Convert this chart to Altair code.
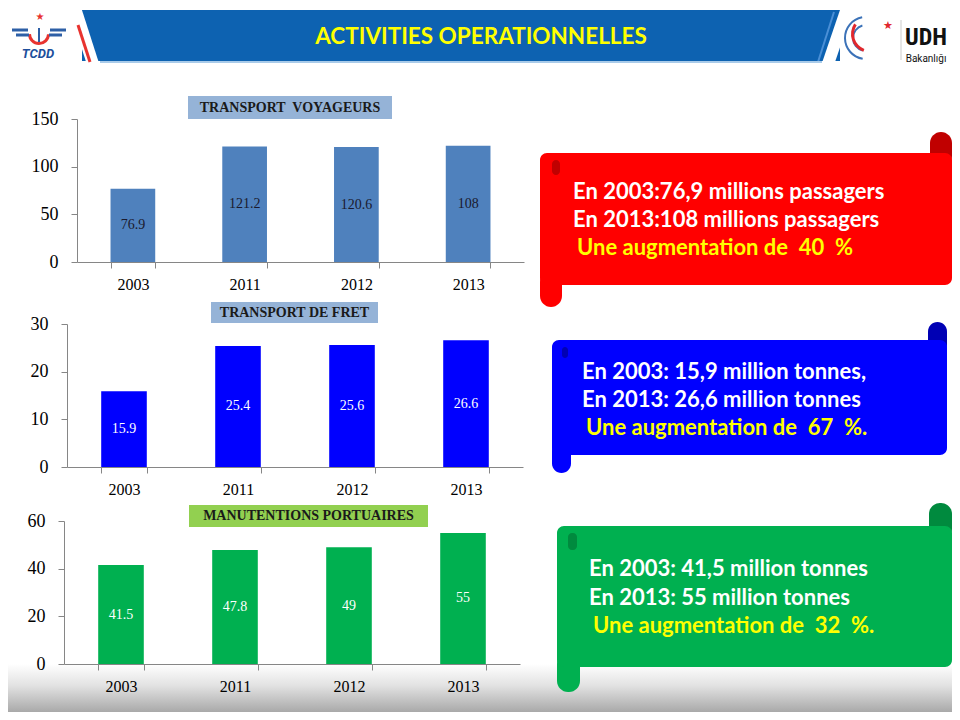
import altair as alt
import pandas as pd

# ---------------- data ----------------
years = ["2003", "2011", "2012", "2013"]

voy_bars = [76.9, 121.2, 120.6, 122.0]      # bar heights as drawn
voy_labels = [76.9, 121.2, 120.6, 108]      # printed data labels
fret_bars = [15.9, 25.4, 25.6, 26.6]
fret_labels = [15.9, 25.4, 25.6, 26.6]
port_bars = [41.5, 47.8, 49, 55]
port_labels = [41.5, 47.8, 49, 55]

title_main = "ACTIVITIES OPERATIONNELLES"
titles = ["TRANSPORT\u00a0 VOYAGEURS", "TRANSPORT DE FRET", "MANUTENTIONS PORTUAIRES"]

note_voy = ["En 2003:76,9 millions passagers", "En 2013:108 millions passagers",
            "Une augmentation de\u00a0 40\u00a0 %"]
note_fret = ["En 2003: 15,9 million tonnes,", "En 2013: 26,6 million tonnes",
             "Une augmentation de\u00a0 67\u00a0 %."]
note_port = ["En 2003: 41,5 million tonnes", "En 2013: 55 million tonnes",
             "Une augmentation de\u00a0 32\u00a0 %."]

W, H = 944, 704
SERIF = "Liberation Serif"
SANS = "Lato"

ONE = pd.DataFrame({"k": [0]})


def rect(x1, x2, y1, y2, color, radius=0):
    return alt.Chart(ONE).mark_rect(color=color, cornerRadius=radius).encode(
        x=alt.value(x1), x2=alt.value(x2), y=alt.value(y1), y2=alt.value(y2))


def rule(x1, y1, x2, y2, color, width):
    return alt.Chart(ONE).mark_rule(color=color, strokeWidth=width).encode(
        x=alt.value(x1), y=alt.value(y1), x2=alt.value(x2), y2=alt.value(y2))


def text(s, x, y, size, color, font, weight="normal", align="center", style="normal"):
    return alt.Chart(ONE).mark_text(text=s, fontSize=size, color=color, font=font,
                                    fontWeight=weight, align=align, baseline="middle",
                                    fontStyle=style).encode(x=alt.value(x), y=alt.value(y))


def arc(cx, cy, r1, r2, t1, t2, color):
    return alt.Chart(ONE).mark_arc(color=color, radius=r2, radius2=r1,
                                   theta=t1, theta2=t2).encode(x=alt.value(cx), y=alt.value(cy))


def bar_chart(bars, labels, color, label_color, domain, ticks, xr, yr):
    df = pd.DataFrame({"year": years, "h": bars, "label": labels})
    base = alt.Chart(df)
    xscale = alt.Scale(range=xr, paddingInner=0.6, paddingOuter=0.3)
    xaxis = alt.Axis(orient="bottom", offset=yr[0] - H, labelAngle=0,
                     tickBand="extent", tickSize=6, labelPadding=8,
                     labelFontSize=16, grid=False, title=None, zindex=2)
    yscale = alt.Scale(domain=domain, range=yr, nice=False, zero=True)
    yaxis = alt.Axis(orient="left", offset=-xr[0], values=ticks, tickSize=6,
                     labelPadding=13, labelFontSize=18, grid=False, title=None, zindex=2)
    b = base.mark_bar(color=color).encode(
        x=alt.X("year:N", sort=years, scale=xscale, axis=xaxis, title=None),
        y=alt.Y("h:Q", scale=yscale, axis=yaxis, title=None))
    t = base.transform_calculate(mid="datum.h / 2").mark_text(
        font=SERIF, fontSize=14, color=label_color, baseline="middle").encode(
        x=alt.X("year:N", sort=years, scale=xscale, axis=xaxis, title=None),
        y=alt.Y("mid:Q", scale=yscale, axis=yaxis, title=None),
        text=alt.Text("label:Q", format="~g"))
    return alt.layer(b, t)


def scroll(x1, x2, y1, y2, curl_bottom, curl_top, cw, color, dark, notch):
    return [
        rect(x2 - cw, x2, curl_top, y1 + 14, dark, 11),
        rect(x1, x1 + cw, y2 - 14, curl_bottom, color, 11),
        rect(x1, x2, y1, y2, color, 7),
        rect(notch[0], notch[1], notch[2], notch[3], dark, 4),
    ]


def note(lines, x, y0, step, size=22):
    return [
        text(lines[0], x, y0, size, "white", SANS, "bold", "left"),
        text(lines[1], x, y0 + step, size, "white", SANS, "bold", "left"),
        text(lines[2], x + 4, y0 + 2 * step, size, "#ffff00", SANS, "bold", "left"),
    ]


footer = alt.Chart(ONE).mark_rect(
    color=alt.Gradient(gradient="linear",
                       stops=[alt.GradientStop(color="#ffffff", offset=0),
                              alt.GradientStop(color="#e2e2e2", offset=0.45),
                              alt.GradientStop(color="#a9a9a9", offset=1)],
                       x1=0, x2=0, y1=0, y2=1)
).encode(x=alt.value(0), x2=alt.value(W), y=alt.value(656), y2=alt.value(H))

header = [
    rect(74, 832, 2, 53, "#0d62b1"),
    rule(67, 0, 85, 56, "white", 12),
    rule(839, 0, 820, 56, "white", 12),
    rule(70, 17, 82, 54, "#e8332f", 3),
    rule(826, 4, 810, 54, "#4a8fd6", 2),
    rule(92, 54, 814, 54, "#a9cbe9", 2),
    text(title_main, 473, 29, 22.5, "#ffff00", SANS, "bold"),
    # TCDD logo
    text("\u2605", 32, 9, 10, "#e8332f", "DejaVu Sans"),
    arc(31, 26, 8, 11, 1.6, 4.7, "#e8332f"),
    rule(4, 22, 20, 22, "#2d5fa6", 3),
    rule(8, 27, 21, 27, "#2d5fa6", 3),
    rule(42, 22, 58, 22, "#2d5fa6", 3),
    rule(41, 27, 54, 27, "#2d5fa6", 3),
    rule(31, 20, 31, 34, "#2d5fa6", 2),
    text("TCDD", 30, 46, 13, "#1d4f9c", "Roboto", "bold", "center", "italic"),
    # UDH logo
    arc(858, 30, 20, 22, 3.3, 6.1, "#3b72b8"),
    arc(858, 30, 12, 14, 3.4, 6.0, "#3b72b8"),
    arc(862, 26, 16, 19, 3.5, 5.3, "#e0282e"),
    text("\u2605", 880, 18, 11, "#e0282e", "DejaVu Sans"),
    rule(893, 12, 893, 52, "#cccccc", 1),
    text("UDH", 918, 30, 24, "#111111", "Liberation Sans Narrow, Roboto Condensed, Roboto", "bold"),
    text("Bakanl\u0131\u011f\u0131", 918, 51, 10, "#111111", "Roboto"),
]

title_boxes = [
    rect(180, 384, 88, 111, "#95b3d7"),
    text(titles[0], 282, 100, 14, "#1a1a1a", SERIF, "bold"),
    rect(203, 370, 294, 315, "#95b3d7"),
    text(titles[1], 286.5, 305, 14, "#1a1a1a", SERIF, "bold"),
    rect(181, 420, 497, 519, "#92d050"),
    text(titles[2], 300.5, 508, 14, "#1a1a1a", SERIF, "bold"),
]

c1 = bar_chart(voy_bars, voy_labels, "#4f81bd", "#1a1a2e", [0, 150], [0, 50, 100, 150],
               [69, 516], [254, 111])
c2 = bar_chart(fret_bars, fret_labels, "#0000ff", "white", [0, 30], [0, 10, 20, 30],
               [59, 515], [459, 316])
c3 = bar_chart(port_bars, port_labels, "#00b050", "white", [0, 60], [0, 20, 40, 60],
               [56, 512], [656, 513])

callouts = (
    scroll(532, 944, 145, 277, 299, 124, 22, "#ff0000", "#c00000", (544, 552, 152, 167))
    + note(note_voy, 565, 184, 28)
    + scroll(544, 939, 332, 447, 465, 314, 19, "#0000ff", "#0000b4", (554, 560, 339, 350))
    + note(note_fret, 574, 364, 28)
    + scroll(549, 944, 518, 659, 684, 495, 23, "#00b050", "#008a3e", (560, 569, 525, 542))
    + note(note_port, 581, 561, 28.5)
)

chart = alt.layer(footer, *header, *title_boxes, c1, c2, c3, *callouts).resolve_scale(
    x="independent", y="independent"
).resolve_axis(
    x="independent", y="independent"
).properties(
    width=W, height=H, padding=0, autosize=alt.AutoSizeParams(type="none")
).configure_view(strokeWidth=0).configure_axis(
    domainColor="#868686", tickColor="#868686", labelColor="black", labelFont=SERIF
)

chart.save("out.html", embed_options={"renderer": "svg", "actions": False})
